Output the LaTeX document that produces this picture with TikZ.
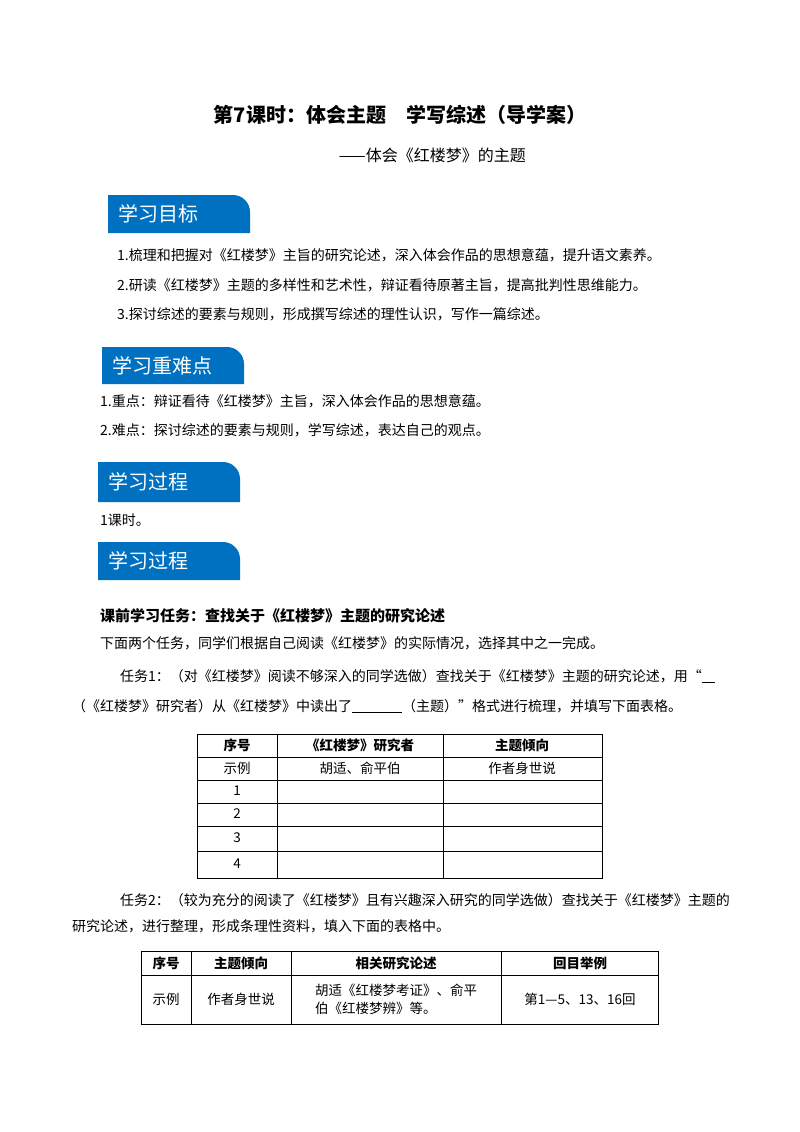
\documentclass[tikz,border=0pt]{standalone}
\usepackage{fontspec}
\setmainfont{Liberation Serif}
\newfontfamily\cjk{Noto Sans CJK SC}
\begin{document}
\begin{tikzpicture}[x=1pt,y=-1pt,
  txt/.style={anchor=west,inner sep=0pt,font=\cjk\fontsize{14}{16}\selectfont},
  tabt/.style={anchor=west,inner sep=0pt,text=white,font=\cjk\fontsize{20}{23}\selectfont},
  tb/.style={draw=black,line width=0.7pt},
  cell/.style={inner sep=0pt,font=\cjk\fontsize{13.5}{16}\selectfont},
  hcell/.style={inner sep=0pt,font=\cjk\bfseries\fontsize{13.5}{16}\selectfont}]
\useasboundingbox (0,0) rectangle (800,1132);
\fill[white] (0,0) rectangle (800,1132);
\definecolor{tabc}{HTML}{0070C0}
\node[inner sep=0pt,font=\cjk\bfseries\fontsize{20}{23}\selectfont] (title) at (400,115) {第7课时：体会主题\quad 学写综述（导学案）};
\node[inner sep=0pt,anchor=east,font=\cjk\fontsize{16}{19}\selectfont] (sub) at (526,155) {——体会《红楼梦》的主题};
\foreach \x/\ya/\yb/\t/\n in {108/195/233/学习目标/t1,102/347/384/学习重难点/t2,98/462/502/学习过程/t3,98/542/580/学习过程/t4}{
  \fill[tabc] (\x,\yb) -- (\x,\ya) -- (\x+125,\ya) arc[start angle=90,end angle=0,x radius=17,y radius=-17] -- (\x+142,\yb) -- cycle;
  \node[tabt] (\n) at (\x+10,{(\ya+\yb)/2}) {\t};
}
\node[txt] (a1) at (117,255) {1.梳理和把握对《红楼梦》主旨的研究论述，深入体会作品的思想意蕴，提升语文素养。};
\node[txt] (a2) at (117,285) {2.研读《红楼梦》主题的多样性和艺术性，辩证看待原著主旨，提高批判性思维能力。};
\node[txt] (a3) at (117,314) {3.探讨综述的要素与规则，形成撰写综述的理性认识，写作一篇综述。};
\node[txt] (b1) at (100,401) {1.重点：辩证看待《红楼梦》主旨，深入体会作品的思想意蕴。};
\node[txt] (b2) at (100,430) {2.难点：探讨综述的要素与规则，学写综述，表达自己的观点。};
\node[txt] (c1) at (100,520) {1课时。};
\node[txt,font=\cjk\bfseries\fontsize{15}{17}\selectfont] (d0) at (100,616) {课前学习任务：查找关于《红楼梦》主题的研究论述};
\node[txt] (d1) at (100,643) {下面两个任务，同学们根据自己阅读《红楼梦》的实际情况，选择其中之一完成。};
\node[txt] (d2) at (120,676) {任务1：（对《红楼梦》阅读不够深入的同学选做）查找关于《红楼梦》主题的研究论述，用“\underline{\hspace{13pt}}};
\node[txt] (d3) at (72,706) {（《红楼梦》研究者）从《红楼梦》中读出了\underline{\hspace{50pt}}（主题）”格式进行梳理，并填写下面表格。};
\draw[tb] (197,734) rectangle (602,878);
\foreach \y in {757,780,803,826,851} \draw[tb] (197,\y) -- (602,\y);
\draw[tb] (277,734) -- (277,878); \draw[tb] (443,734) -- (443,878);
\node[hcell] (h1) at (237,745) {序号};
\node[hcell] (h2) at (360,745) {《红楼梦》研究者};
\node[hcell] (h3) at (522,745) {主题倾向};
\node[cell] (r1) at (237,768) {示例};
\node[cell] (r2) at (360,768) {胡适、俞平伯};
\node[cell] (r3) at (522,768) {作者身世说};
\foreach \y/\n in {791/1,814/2,838/3,864/4} \node[cell] (n\n) at (237,\y) {\n};
\node[txt] (e1) at (120,900) {任务2：（较为充分的阅读了《红楼梦》且有兴趣深入研究的同学选做）查找关于《红楼梦》主题的};
\node[txt] (e2) at (72,926) {研究论述，进行整理，形成条理性资料，填入下面的表格中。};
\draw[tb] (141,951) rectangle (658,1024);
\draw[tb] (141,975) -- (658,975);
\foreach \x in {191,291,501} \draw[tb] (\x,951) -- (\x,1024);
\node[hcell] (k1) at (166,963) {序号};
\node[hcell] (k2) at (241,963) {主题倾向};
\node[hcell] (k3) at (396,963) {相关研究论述};
\node[hcell] (k4) at (580,963) {回目举例};
\node[cell] (m1) at (166,999) {示例};
\node[cell] (m2) at (241,999) {作者身世说};
\node[cell,align=left] (m3) at (396,999) {胡适《红楼梦考证》、俞平\\[2pt]伯《红楼梦辨》等。};
\node[cell] (m4) at (580,999) {第1—5、13、16回};
\end{tikzpicture}
\end{document}
